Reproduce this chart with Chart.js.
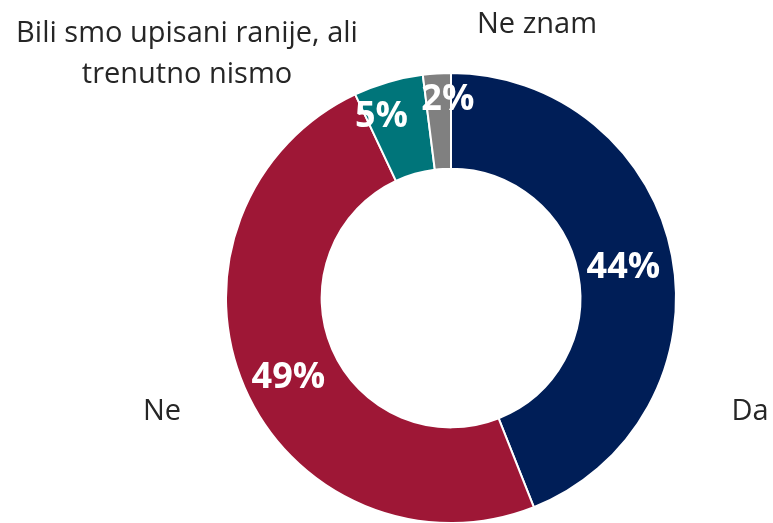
<!DOCTYPE html>
<html>
<head>
<meta charset="utf-8">
<script src="https://cdn.jsdelivr.net/npm/chart.js@4.4.0/dist/chart.umd.min.js"></script>
<style>
  html, body { margin: 0; padding: 0; background: #fff; }
  #wrap { width: 773px; height: 523px; position: relative; }
</style>
</head>
<body>
<div id="wrap"><canvas id="donut"></canvas></div>
<script>
// data
const categories = ['Da', 'Ne', 'Bili smo upisani ranije, ali trenutno nismo', 'Ne znam'];
const shares = [44, 49, 5, 2];
const valueLabels = ['44%', '49%', '5%', '2%'];
const categoryLines = [['Da'], ['Ne'], ['Bili smo upisani ranije, ali', 'trenutno nismo'], ['Ne znam']];

// where the category names sit, relative to the doughnut centre
const namePos = [
    { dx: 299, dy: 122 },
    { dx: -289, dy: 122 },
    { dx: -264, dy: -256 },
    { dx: 86, dy: -265 }
];
// tweaks for the value labels of the thin slices (radius factor, angle shift in degrees)
const valueTweak = [
    { r: 0.78, a: 0 },
    { r: 0.80, a: -2 },
    { r: 0.875, a: -4.5 },
    { r: 0.895, a: 2.7 }
];

const labelPlugin = {
    id: 'labelPlugin',
    afterDatasetsDraw(chart) {
        const ctx = chart.ctx;
        const arcs = chart.getDatasetMeta(0).data;
        ctx.save();
        ctx.textAlign = 'center';
        ctx.textBaseline = 'alphabetic';
        arcs.forEach((arc, i) => {
            const p = arc.getProps(['x', 'y', 'startAngle', 'endAngle', 'outerRadius'], true);
            const mid = (p.startAngle + p.endAngle) / 2 + valueTweak[i].a * Math.PI / 180;
            const r = p.outerRadius * valueTweak[i].r;
            const x = p.x + Math.cos(mid) * r;
            const y = p.y + Math.sin(mid) * r;
            ctx.fillStyle = '#ffffff';
            ctx.font = 'bold 36px "Open Sans"';
            ctx.fillText(valueLabels[i], x, y + 13);

            ctx.fillStyle = '#262626';
            ctx.font = '29px "Open Sans"';
            categoryLines[i].forEach((line, j) => {
                ctx.fillText(line, p.x + namePos[i].dx, p.y + namePos[i].dy + j * 41);
            });
        });
        ctx.restore();
    }
};

const ctx = document.getElementById('donut').getContext('2d');
new Chart(ctx, {
    type: 'doughnut',
    data: {
        labels: categories,
        datasets: [{
            data: shares,
            backgroundColor: ['#001E57', '#9E1736', '#00757A', '#808080'],
            borderColor: '#ffffff',
            borderWidth: 2,
            hoverOffset: 0
        }]
    },
    options: {
        responsive: true,
        maintainAspectRatio: false,
        animation: false,
        cutout: '57.5%',
        radius: 225,
        layout: { padding: { top: 73, bottom: 0, left: 129, right: 0 } },
        plugins: {
            legend: { display: false },
            tooltip: { enabled: false }
        }
    },
    plugins: [labelPlugin]
});
</script>
</body>
</html>
